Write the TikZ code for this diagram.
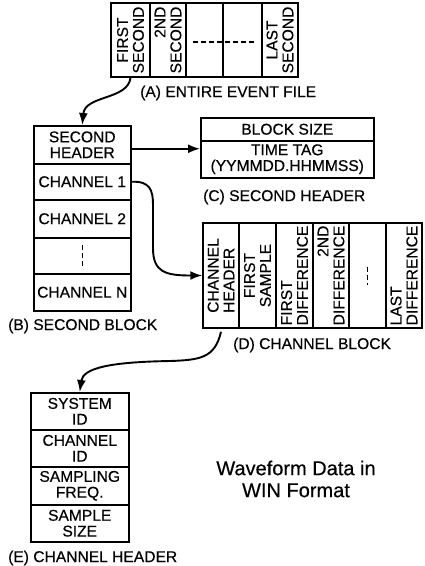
\documentclass[tikz,border=0pt]{standalone}
\usepackage{fontspec}
\setmainfont{Liberation Sans}[FakeBold=0.35]
\usetikzlibrary{arrows.meta}
\newcommand\fs{\fontsize{15.6}{15.8}\selectfont}
\newcommand\fsbig{\fontsize{20}{22}\selectfont}
\begin{document}
\begin{tikzpicture}[x=1pt,y=-1pt,
  every node/.style={font=\fs},
  cell/.style={draw, line width=1.5pt, inner sep=0pt, anchor=north west, align=center},
  vcell/.style={draw, line width=1.5pt, inner sep=0pt, anchor=center, rotate=90, align=center},
  lab/.style={anchor=west, inner sep=0pt},
  arr/.style={line width=1.9pt, -{Latex[length=12pt,width=9pt]}},
  dashline/.style={line width=1.5pt, dash pattern=on 5pt off 3pt}]
\useasboundingbox (0,0) rectangle (424,566);
\fill[white] (0,0) rectangle (424,566);

% (A) entire event file
\node[vcell, minimum width=74pt, minimum height=39pt] (a1) at (130.5,40) {FIRST\\SECOND};
\node[vcell, minimum width=74pt, minimum height=36pt, align=right] (a2) at (168,40) {2ND\\SECOND};
\node[vcell, minimum width=74pt, minimum height=37pt] (a3) at (204.5,40) {};
\node[vcell, minimum width=74pt, minimum height=39pt] (a4) at (242.5,40) {};
\node[vcell, minimum width=74pt, minimum height=36pt] (a5) at (280,40) {LAST\\SECOND};
\draw[dashline] ([xshift=-12pt,yshift=-2pt]a3.center) -- ([xshift=12pt,yshift=-2pt]a4.center);
\node[lab] (la) at (140,93) {(A) ENTIRE EVENT FILE};

% (B) second block
\node[cell, minimum width=97pt, minimum height=38pt] (b1) at (33,125) {SECOND\\HEADER};
\node[cell, minimum width=97pt, minimum height=36pt] (b2) at (33,163) {CHANNEL 1};
\node[cell, minimum width=97pt, minimum height=38pt] (b3) at (33,199) {CHANNEL 2};
\node[cell, minimum width=97pt, minimum height=36pt] (b4) at (33,237) {};
\node[cell, minimum width=97pt, minimum height=37pt] (b5) at (33,273) {CHANNEL N};
\draw[dashline] ([yshift=11pt]b4.center) -- ([yshift=-11pt]b4.center);
\node[lab] (lb) at (8,326) {(B) SECOND BLOCK};

% (C) second header
\node[cell, minimum width=173pt, minimum height=23pt] (c1) at (200,117) {BLOCK SIZE};
\node[cell, minimum width=173pt, minimum height=37pt] (c2) at (200,140) {TIME TAG\\(YYMMDD.HHMMSS)};
\node[lab] (lc) at (203,197) {(C) SECOND HEADER};

% (D) channel block
\node[vcell, minimum width=105pt, minimum height=36pt, align=left] (d1) at (221,275.5) {CHANNEL\\HEADER};
\node[vcell, minimum width=105pt, minimum height=37pt] (d2) at (257.5,275.5) {FIRST\\SAMPLE};
\node[vcell, minimum width=105pt, minimum height=37pt, align=left] (d3) at (294.5,275.5) {FIRST\\DIFFERENCE};
\node[vcell, minimum width=105pt, minimum height=36pt, align=right] (d4) at (331,275.5) {2ND\\DIFFERENCE};
\node[vcell, minimum width=105pt, minimum height=37pt] (d5) at (367.5,275.5) {};
\node[vcell, minimum width=105pt, minimum height=36pt, align=left] (d6) at (404,275.5) {LAST\\DIFFERENCE};
\draw[dashline] ([yshift=9pt]d5.center) -- ([yshift=-9pt]d5.center);
\node[lab] (ld) at (233,345) {(D) CHANNEL BLOCK};

% (E) channel header
\node[cell, minimum width=98pt, minimum height=37pt] (e1) at (30,392) {SYSTEM\\ID};
\node[cell, minimum width=98pt, minimum height=37pt] (e2) at (30,429) {CHANNEL\\ID};
\node[cell, minimum width=98pt, minimum height=38pt] (e3) at (30,466) {SAMPLING\\FREQ.};
\node[cell, minimum width=98pt, minimum height=37pt] (e4) at (30,504) {SAMPLE\\SIZE};
\node[lab] (le) at (8,558) {(E) CHANNEL HEADER};

% title
\node[font=\fsbig, align=center, inner sep=0pt] (title) at (296,479) {Waveform Data in\\WIN Format};

% connectors
\draw[arr] (a1.west) .. controls (128,100) and (85,95) .. (b1.north);
\draw[arr] ([yshift=-4pt]b1.east) -- ([yshift=-4pt]b1.east -| c2.west);
\draw[arr] (b2.east) .. controls (150,181) and (153,190) .. (153,205) -- (153,248)
  .. controls (153,272) and (165,275.5) .. (d1.north);
\draw[arr] ([yshift=-3pt]d1.west) .. controls (215,358) and (200,360) .. (170,361)
  .. controls (110,362) and (83,368) .. (e1.north);
\end{tikzpicture}
\end{document}
